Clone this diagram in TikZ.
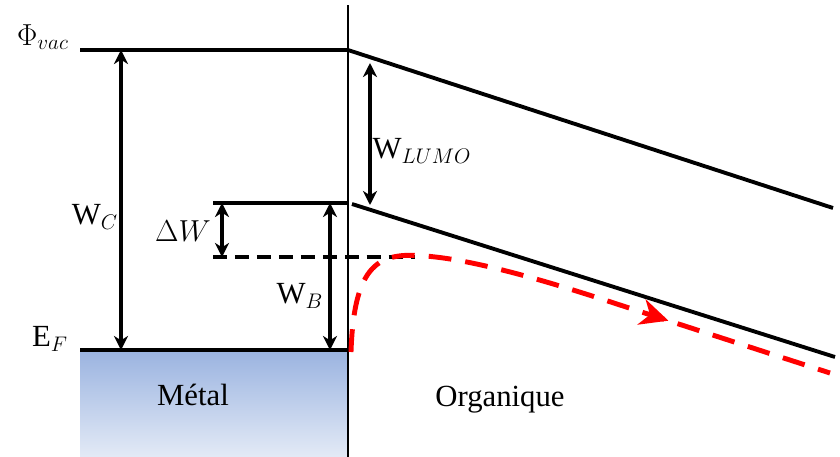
\documentclass[tikz,border=0pt]{standalone}
\usepackage{fontspec}
\setmainfont{Liberation Serif}
\usetikzlibrary{arrows.meta, positioning, decorations.markings}

\definecolor{metaltop}{HTML}{9AB3E0}
\definecolor{metalbot}{HTML}{E3EAF6}

\begin{document}
\begin{tikzpicture}[
    x=0.02cm, y=-0.02cm, % pixel-like units, y pointing down
    every node/.style={font=\fontsize{17.5}{21}\selectfont, inner sep=0pt},
    level/.style={line width=2pt},
    band/.style={line width=2.2pt},
    gap/.style={line width=2pt, {Stealth[length=8pt,width=8pt,inset=2.5pt]}-{Stealth[length=8pt,width=8pt,inset=2.5pt]}},
    inject/.style={red, line width=2.8pt, dash pattern=on 13pt off 8pt,
        postaction={decorate, decoration={markings,
            mark=at position 0.7 with {\arrow{Stealth[length=16pt,width=15pt,inset=5pt,red]}}}}},
]
\useasboundingbox (0,0) rectangle (840,457);

% =========================================================
% Metal side
% =========================================================
\shade[top color=metaltop, bottom color=metalbot] (80,350) rectangle (348,457);

\coordinate (vacL) at (80,50);
\coordinate (vacR) at (348,50);
\coordinate (efL) at (80,350);
\coordinate (efR) at (348,350);
\coordinate (lumoL) at (213,203);
\coordinate (lumoR) at (348,203);
\coordinate (barL) at (213,257);
\coordinate (barR) at (415,257);

% Interface
\coordinate (ifTop) at (348,5);
\coordinate (ifBot) at (348,457);
\draw[line width=0.8pt] (ifTop) -- (ifBot);

% Levels
\draw[level] (vacL) -- (vacR);
\draw[level] (efL) -- (efR);
\draw[level] (lumoL) -- (lumoR);
\draw[level, dash pattern=on 8pt off 4.5pt] (barL) -- (barR);

% =========================================================
% Organic side (band bending)
% =========================================================
\coordinate (vacEnd) at (833,208);
\coordinate (lumoStart) at (352,204);
\coordinate (lumoEnd) at (835,357);
\draw[band] (vacR) -- (vacEnd);
\draw[band] (lumoStart) -- (lumoEnd);

% Energy gaps
\coordinate (wcTop) at (121,50);
\coordinate (wcBot) at (121,350);
\draw[gap] (wcTop) -- (wcBot);

\coordinate (dwTop) at (222,203);
\coordinate (dwBot) at (222,257);
\draw[gap] (dwTop) -- (dwBot);

\coordinate (wbTop) at (330,203);
\coordinate (wbBot) at (330,350);
\draw[gap] (wbTop) -- (wbBot);

\coordinate (wlTop) at (370,63);
\coordinate (wlBot) at (370,205);
\draw[gap] (wlTop) -- (wlBot);

% Injected carrier path
\coordinate (hopStart) at (351,352);
\coordinate (hopPeak) at (425,256);
\coordinate (hopBend) at (620,305);
\coordinate (hopEnd) at (830,373);
\draw[inject] (hopStart) .. controls (354,262) and (380,252) .. (hopPeak)
    .. controls (480,260) and (565,287) .. (hopBend) -- (hopEnd);

% Labels
\node (phiLabel) at (43,37) {$\Phi_{vac}$};
\node (efLabel) at (50,339) {$\mathrm{E}_{F}$};
\node (wcLabel) at (95,217) {$\mathrm{W}_{C}$};
\node (dwLabel) at (183,231) {$\Delta W$};
\node (wbLabel) at (300,296) {$\mathrm{W}_{B}$};
\node (wlLabel) at (422,151) {$\mathrm{W}_{LUMO}$};
\node (metalLabel) at (193,395) {Métal};
\node (orgLabel) at (500,400) {Organique};

\end{tikzpicture}
\end{document}
